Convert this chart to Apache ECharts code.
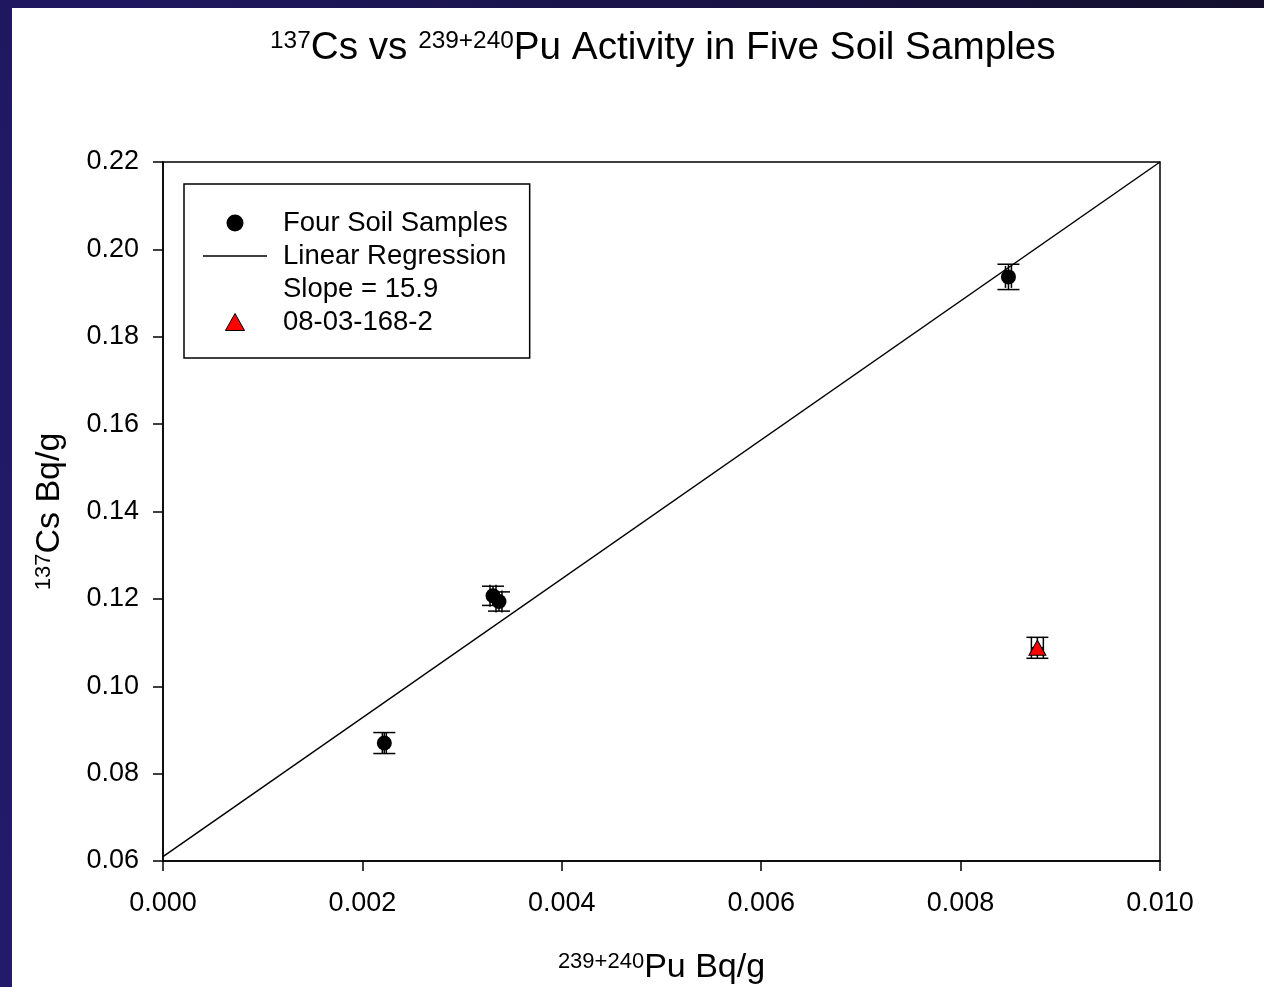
<!DOCTYPE html>
<html>
<head>
<meta charset="utf-8">
<script src="https://cdn.jsdelivr.net/npm/echarts@6/dist/echarts.min.js"></script>
<style>
  html, body { margin: 0; padding: 0; width: 1264px; height: 987px; overflow: hidden;
    background: linear-gradient(to top right, #241a6c 0%, #1f1860 55%, #130f2c 100%); }
  #chart { position: absolute; left: 12px; top: 8px; width: 1252px; height: 979px; background: #fff; }
</style>
</head>
<body>
<div id="chart"></div>
<script>
// four soil samples: Pu (x), Cs (y) and their errors
var soilPu = [0.00222, 0.00331, 0.00337, 0.00848];
var soilCs = [0.0870, 0.1207, 0.1194, 0.1937];
var soilPuErr = [0.00002, 0.00003, 0.00003, 0.00003];
var soilCsErr = [0.0024, 0.0022, 0.0022, 0.0029];

// sample 08-03-168-2
var oddPu = [0.00877];
var oddCs = [0.1088];
var oddPuErr = [0.00006];
var oddCsErr = [0.0024];

// regression line end points (slope 15.9)
var regPu = [0.000, 0.010];
var regCs = [0.0610, 0.2200];

var xRange = [0, 0.010, 0.002];
var yRange = [0.06, 0.22, 0.02];

var font = '"Liberation Sans", Arial, sans-serif';
var ink = '#000';

function pairs(xs, ys) {
  return xs.map(function (x, i) { return [x, ys[i]]; });
}

function errorBars(xs, ys, xe, ye) {
  return {
    type: 'custom',
    silent: true,
    z: 1,
    data: xs.map(function (x, i) { return [x, ys[i], xe[i], ye[i]]; }),
    encode: { x: 0, y: 1 },
    renderItem: function (params, api) {
      var x = api.value(0), y = api.value(1), dx = api.value(2), dy = api.value(3);
      var c = api.coord([x, y]);
      var t = api.coord([x, y + dy])[1];
      var b = api.coord([x, y - dy])[1];
      var l = api.coord([x - dx, y])[0];
      var r = api.coord([x + dx, y])[0];
      var cap = 11;
      var st = { stroke: ink, lineWidth: 1.5 };
      function seg(x1, y1, x2, y2) {
        return { type: 'line', shape: { x1: x1, y1: y1, x2: x2, y2: y2 }, style: st };
      }
      return {
        type: 'group',
        children: [
          seg(c[0], t, c[0], b),
          seg(c[0] - cap, t, c[0] + cap, t),
          seg(c[0] - cap, b, c[0] + cap, b),
          seg(l, c[1], r, c[1]),
          seg(l, c[1] - cap, l, c[1] + cap),
          seg(r, c[1] - cap, r, c[1] + cap)
        ]
      };
    }
  };
}

var chart = echarts.init(document.getElementById('chart'), null, { renderer: 'canvas' });

var richM = function (size) {
  return { fontSize: size, fontFamily: font, fontWeight: 'normal', color: ink };
};
var richSup = function (size) {
  return { fontSize: size, fontFamily: font, fontWeight: 'normal', color: ink, verticalAlign: 'top' };
};

chart.setOption({
  animation: false,
  backgroundColor: '#fff',
  title: {
    text: '{sup|137}{m|Cs vs }{sup|239+240}{m|Pu Activity in Five Soil Samples}',
    left: 258,
    top: 21,
    padding: 0,
    textStyle: { fontWeight: 'normal', rich: { m: richM(38.7), sup: richSup(24.4) } }
  },
  grid: {
    left: 151, right: 104, top: 154, bottom: 126,
    show: true, borderColor: ink, borderWidth: 1.5,
    outerBoundsMode: 'none'
  },
  legend: {
    orient: 'vertical',
    left: 172,
    top: 176,
    padding: [25, 22, 22, 19],
    borderColor: ink,
    borderWidth: 1.5,
    borderRadius: 0,
    itemWidth: 64,
    itemHeight: 17,
    itemGap: 5,
    selectedMode: false,
    textStyle: { fontFamily: font, fontSize: 27.5, color: ink, padding: [0, 0, 0, 11] },
    data: [
      { name: 'Four Soil Samples', icon: 'circle', itemStyle: { opacity: 1 } },
      { name: 'Linear Regression', icon: 'path://M0,0H64V1.5H0Z' },
      { name: 'Slope = 15.9', icon: 'none' },
      { name: '08-03-168-2', icon: 'path://M0,-8L9,8L-9,8Z',
        itemStyle: { opacity: 1, borderColor: ink, borderWidth: 1 } }
    ]
  },
  xAxis: {
    type: 'value',
    min: xRange[0], max: xRange[1], interval: xRange[2],
    name: '{sup|239+240}{m|Pu Bq/g}',
    nameLocation: 'middle',
    nameGap: 90,
    nameTextStyle: { rich: { m: richM(34), sup: richSup(22) } },
    axisLine: { show: true, onZero: false, lineStyle: { color: ink, width: 1.5 } },
    axisTick: { show: true, inside: false, length: 10, lineStyle: { color: ink, width: 1.5 } },
    axisLabel: { color: ink, fontFamily: font, fontSize: 27, margin: 29,
      formatter: function (v) { return v.toFixed(3); } },
    splitLine: { show: false }
  },
  yAxis: {
    type: 'value',
    min: yRange[0], max: yRange[1], interval: yRange[2],
    name: '{sup|137}{m|Cs Bq/g}',
    nameLocation: 'middle',
    nameGap: 96,
    nameTextStyle: { rich: { m: richM(34), sup: richSup(22) } },
    axisLine: { show: true, onZero: false, lineStyle: { color: ink, width: 1.5 } },
    axisTick: { show: true, inside: false, length: 10, lineStyle: { color: ink, width: 1.5 } },
    axisLabel: { color: ink, fontFamily: font, fontSize: 27, margin: 24,
      formatter: function (v) { return v.toFixed(2); } },
    splitLine: { show: false }
  },
  series: [
    {
      name: 'Linear Regression',
      type: 'line',
      data: pairs(regPu, regCs),
      symbol: 'none',
      color: ink,
      lineStyle: { color: ink, width: 1.5 },
      silent: true,
      z: 2
    },
    { name: 'Slope = 15.9', type: 'line', data: [], symbol: 'none', color: ink },
    errorBars(soilPu, soilCs, soilPuErr, soilCsErr),
    errorBars(oddPu, oddCs, oddPuErr, oddCsErr),
    {
      name: 'Four Soil Samples',
      type: 'scatter',
      data: pairs(soilPu, soilCs),
      symbol: 'circle',
      symbolSize: 15,
      itemStyle: { color: ink, opacity: 1 },
      z: 3
    },
    {
      name: '08-03-168-2',
      type: 'scatter',
      data: pairs(oddPu, oddCs),
      symbol: 'triangle',
      symbolSize: [17, 15],
      itemStyle: { color: '#ff0000', borderColor: ink, borderWidth: 1, opacity: 1 },
      z: 3
    }
  ]
});
window.addEventListener('resize', function () { chart.resize(); });
</script>
</body>
</html>
